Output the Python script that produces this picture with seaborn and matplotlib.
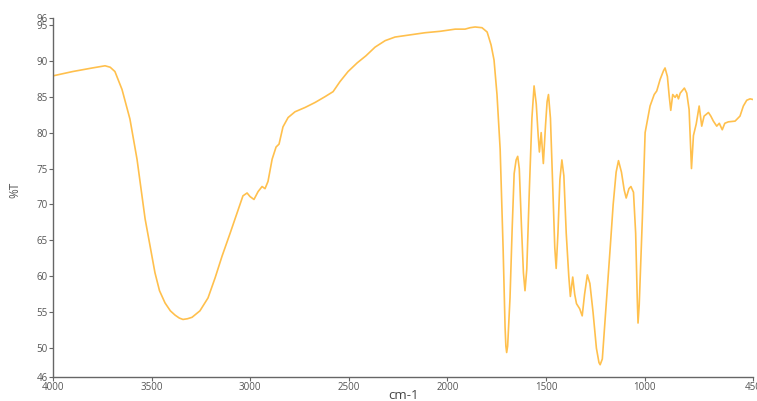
import numpy as np
import pandas as pd
import matplotlib
matplotlib.use("Agg")
import matplotlib.pyplot as plt
import seaborn as sns

# IR spectrum (wavenumber cm-1, %T)
wavenumber = [4000, 3900, 3800, 3736, 3710, 3686, 3650, 3610, 3574, 3533, 3505,
              3483, 3460, 3432, 3405, 3381, 3360, 3341, 3318, 3295, 3255, 3214,
              3178, 3143, 3102, 3067, 3037, 3016, 3001, 2981, 2960, 2940, 2925,
              2910, 2889, 2869, 2854, 2834, 2808, 2773, 2722, 2671, 2621, 2580,
              2545, 2504, 2458, 2413, 2367, 2316, 2266, 2190, 2114, 2037, 1961,
              1911, 1885, 1860, 1825, 1799, 1779, 1764, 1749, 1733, 1718, 1708,
              1704, 1700, 1695, 1690, 1683, 1672, 1662, 1652, 1644, 1636, 1625,
              1615, 1607, 1598, 1585, 1572, 1561, 1550, 1540, 1534, 1525, 1514,
              1503, 1495, 1488, 1478, 1466, 1456, 1449, 1440, 1430, 1420, 1410,
              1398, 1385, 1377, 1365, 1355, 1346, 1330, 1317, 1305, 1291, 1278,
              1262, 1245, 1232, 1226, 1215, 1193, 1175, 1160, 1145, 1133, 1118,
              1104, 1094, 1080, 1070, 1057, 1046, 1038, 1034, 1028, 1012, 998,
              973, 952, 939, 922, 905, 897, 885, 876, 868, 858, 846, 837, 829,
              820, 799, 787, 775, 763, 753, 739, 724, 711, 699, 677, 665, 652,
              635, 622, 607, 594, 576, 542, 517, 500, 483, 466, 450]
transmittance = [87.9, 88.5, 89.0, 89.3, 89.1, 88.5, 86.0, 81.9, 76.3, 68.0, 63.8,
                 60.5, 58.0, 56.3, 55.2, 54.6, 54.2, 54.0, 54.1, 54.3, 55.2, 57.0,
                 59.8, 62.8, 66.0, 68.8, 71.2, 71.6, 71.1, 70.7, 71.8, 72.5, 72.2,
                 73.2, 76.3, 78.0, 78.4, 80.8, 82.1, 82.9, 83.5, 84.2, 85.0, 85.7,
                 87.1, 88.5, 89.7, 90.7, 91.9, 92.8, 93.3, 93.6, 93.9, 94.1, 94.4,
                 94.4, 94.6, 94.7, 94.6, 94.0, 92.2, 90.1, 85.3, 77.7, 63.9, 52.9,
                 50.3, 49.4, 50.3, 53.0, 57.0, 66.7, 74.3, 76.2, 76.7, 75.0, 67.0,
                 60.5, 58.0, 61.0, 72.0, 82.0, 86.5, 84.0, 79.5, 77.3, 80.0, 75.7,
                 81.0, 84.3, 85.3, 82.0, 72.0, 64.0, 61.1, 66.0, 73.5, 76.2, 74.0,
                 66.0, 60.0, 57.2, 59.9, 57.5, 56.2, 55.5, 54.5, 57.5, 60.2, 59.0,
                 55.0, 50.0, 48.0, 47.7, 48.5, 57.0, 64.0, 70.0, 74.5, 76.1, 74.5,
                 72.0, 70.9, 72.2, 72.5, 71.7, 66.0, 57.0, 53.5, 56.0, 68.1, 80.0,
                 83.7, 85.3, 85.8, 87.4, 88.6, 89.0, 87.8, 85.1, 83.1, 85.3, 84.9,
                 85.3, 84.7, 85.5, 86.2, 85.5, 83.2, 75.0, 79.6, 81.2, 83.7, 80.9,
                 82.3, 82.8, 82.3, 81.6, 80.9, 81.3, 80.4, 81.3, 81.5, 81.6, 82.3,
                 83.7, 84.5, 84.7, 84.6]

x_ticks = [4000, 3500, 3000, 2500, 2000, 1500, 1000, 450]
y_ticks = [46, 50, 55, 60, 65, 70, 75, 80, 85, 90, 95, 96]

df = pd.DataFrame({"wavenumber": wavenumber, "T": transmittance})

sns.set_style("ticks")
plt.rcParams["font.family"] = ["Open Sans", "DejaVu Sans"]

fig = plt.figure(figsize=(7.57, 4.01), dpi=100)
ax = fig.add_axes([0.070, 0.060, 0.925, 0.896])

sns.lineplot(data=df, x="wavenumber", y="T", sort=False, color="#FFC04D",
             linewidth=1.2, ax=ax)

ax.set_xlim(4000, 450)
ax.set_ylim(46, 96)
ax.set_xticks(x_ticks)
ax.set_yticks(y_ticks)
ax.set_xticklabels([str(t) for t in x_ticks])
ax.set_yticklabels([str(t) for t in y_ticks])

grey = "#666666"
for side in ["top", "right"]:
    ax.spines[side].set_visible(False)
for side in ["left", "bottom"]:
    ax.spines[side].set_color(grey)
    ax.spines[side].set_linewidth(1.0)
ax.tick_params(axis="both", colors=grey, labelcolor="#555555", labelsize=7,
               length=3, width=0.8, pad=1)

ax.set_xlabel("cm-1", fontsize=9.5, color="#444444")
ax.xaxis.set_label_coords(0.5, -0.034)
ax.set_ylabel("%T", fontsize=8.5, color="#555555")
ax.yaxis.set_label_coords(-0.045, 0.52)

fig.savefig("out.png", dpi=100)
